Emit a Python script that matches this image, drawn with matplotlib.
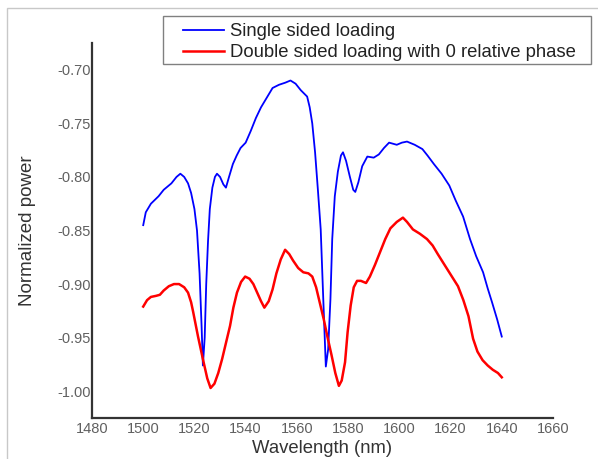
import matplotlib
matplotlib.use("Agg")
import matplotlib.pyplot as plt
from matplotlib.patches import Rectangle

plt.rcParams['font.family'] = ['Liberation Sans', 'DejaVu Sans']

# single sided loading (blue)
single_wl = [1500, 1501, 1503, 1506, 1508, 1511, 1513, 1514.5, 1516, 1517.5, 1518.7, 1520, 1521, 1522,
             1522.8, 1523.3, 1524, 1524.6, 1525.3, 1526, 1527, 1528, 1528.8, 1530, 1531.3, 1532.3,
             1533.5, 1535, 1536.5, 1538, 1540, 1542, 1544, 1546, 1548.5, 1550.5, 1553, 1555.5,
             1557.5, 1559.5, 1561.5, 1564, 1565, 1566, 1567.1, 1568.2, 1569.3, 1570.3, 1571.3,
             1572.2, 1573.1, 1573.8, 1574.8, 1576, 1577.2, 1578, 1579.2, 1580.7, 1582, 1582.8,
             1584, 1585.5, 1587.5, 1590, 1592, 1594, 1596, 1599, 1601, 1603, 1606, 1609, 1611,
             1613.5, 1616.5, 1619.5, 1622, 1624.9, 1627.6, 1630, 1632.7, 1634.5, 1636.2, 1638.2, 1640]
single_pw = [-0.845, -0.833, -0.825, -0.818, -0.812, -0.806, -0.800, -0.797, -0.800, -0.806, -0.815,
             -0.830, -0.850, -0.890, -0.940, -0.976, -0.950, -0.900, -0.860, -0.830, -0.810, -0.800,
             -0.797, -0.800, -0.807, -0.810, -0.800, -0.788, -0.780, -0.773, -0.768, -0.757, -0.745,
             -0.735, -0.725, -0.717, -0.714, -0.712, -0.710, -0.713, -0.719, -0.725, -0.735, -0.750,
             -0.777, -0.812, -0.849, -0.914, -0.977, -0.961, -0.914, -0.858, -0.818, -0.795, -0.780,
             -0.777, -0.785, -0.800, -0.812, -0.814, -0.805, -0.790, -0.781, -0.782, -0.779, -0.773,
             -0.768, -0.770, -0.768, -0.767, -0.770, -0.774, -0.780, -0.788, -0.797, -0.808, -0.822,
             -0.837, -0.858, -0.874, -0.889, -0.904, -0.917, -0.933, -0.949]

# double sided loading with 0 relative phase (red)
double_wl = [1500, 1501.5, 1503, 1505, 1506.5, 1508, 1510, 1512, 1514, 1516, 1517.5, 1518.7, 1519.5,
             1521.4, 1523.3, 1525, 1526.3, 1527.8, 1529.3, 1530.8, 1532.3, 1533.9, 1535.2, 1536.6,
             1538.2, 1539.8, 1541.5, 1543, 1544.5, 1546, 1547.3, 1549, 1550.5, 1552, 1553.7, 1555.4,
             1557, 1558.5, 1560.5, 1562.5, 1564.5, 1566, 1567.5, 1569, 1570.5, 1572, 1573.5, 1575,
             1576.4, 1577.5, 1578.8, 1579.8, 1581, 1582.2, 1583.5, 1585, 1587, 1588.5, 1590.5,
             1592.5, 1594.5, 1596.5, 1599, 1601.4, 1603, 1605.3, 1608, 1610.8, 1613, 1615, 1617.1,
             1620, 1622.9, 1625, 1627, 1628.8, 1630.5, 1632.5, 1634.5, 1636.5, 1638.5, 1640]
double_pw = [-0.921, -0.915, -0.912, -0.911, -0.910, -0.906, -0.902, -0.900, -0.900, -0.903, -0.908,
             -0.917, -0.926, -0.949, -0.970, -0.988, -0.997, -0.993, -0.983, -0.970, -0.955, -0.939,
             -0.922, -0.908, -0.898, -0.893, -0.895, -0.900, -0.908, -0.916, -0.922, -0.916, -0.905,
             -0.890, -0.877, -0.868, -0.872, -0.878, -0.885, -0.889, -0.890, -0.893, -0.903, -0.918,
             -0.933, -0.950, -0.966, -0.983, -0.995, -0.990, -0.973, -0.945, -0.920, -0.903, -0.897,
             -0.897, -0.899, -0.893, -0.882, -0.870, -0.858, -0.848, -0.842, -0.838, -0.842, -0.849,
             -0.853, -0.858, -0.864, -0.872, -0.880, -0.891, -0.902, -0.915, -0.930, -0.951, -0.963,
             -0.971, -0.976, -0.980, -0.983, -0.987]

x_ticks = [1480, 1500, 1520, 1540, 1560, 1580, 1600, 1620, 1640, 1660]
y_ticks = [-1.00, -0.95, -0.90, -0.85, -0.80, -0.75, -0.70]

fig = plt.figure(figsize=(5.98, 4.59), dpi=100)
ax = fig.add_axes([92 / 598, 1 - 418 / 459, 461 / 598, 375 / 459])

# light frame around the picture
fig.patches.append(Rectangle((7 / 598, -0.1), 1.2, 1.1 - 8 / 459, transform=fig.transFigure,
                             fill=False, edgecolor='#c8c8c8', linewidth=1.0))
# legend box
ax.add_patch(Rectangle((163 / 598, 1 - 64 / 459), 428 / 598, 48 / 459, transform=fig.transFigure,
                       facecolor='white', edgecolor='#808080', linewidth=1.0, zorder=4, clip_on=False))

ax.plot(single_wl, single_pw, color='#0000ff', linewidth=1.3, label='Single sided loading')
ax.plot(double_wl, double_pw, color='#ff0000', linewidth=1.8, label='Double sided loading with 0 relative phase')

ax.set_xlim(1480, 1660)
ax.set_ylim(-1.025, -0.675)
ax.set_xticks(x_ticks)
ax.set_yticks(y_ticks)
ax.set_yticklabels(['%.2f' % v for v in y_ticks])
ax.tick_params(length=0, labelsize=10.5, labelcolor='#606060')
ax.tick_params(axis='y', pad=1)
ax.tick_params(axis='x', pad=3)

for s in ['top', 'right']:
    ax.spines[s].set_visible(False)
for s in ['left', 'bottom']:
    ax.spines[s].set_linewidth(1.6)
    ax.spines[s].set_color('#333333')

ax.set_xlabel('Wavelength (nm)', fontsize=13.3, color='#333333', labelpad=3)
ax.set_ylabel('Normalized power', fontsize=13.5, color='#333333', labelpad=15)

leg = ax.legend(loc='upper left', bbox_to_anchor=(183 / 598, 1 - 23 / 459),
                bbox_transform=fig.transFigure, fontsize=13.3, frameon=False,
                handlelength=2.2, handletextpad=0.35, labelspacing=0.24, borderpad=0,
                borderaxespad=0)
leg.set_zorder(6)
for t in leg.get_texts():
    t.set_color('#222222')

fig.savefig('out.png', dpi=100)
